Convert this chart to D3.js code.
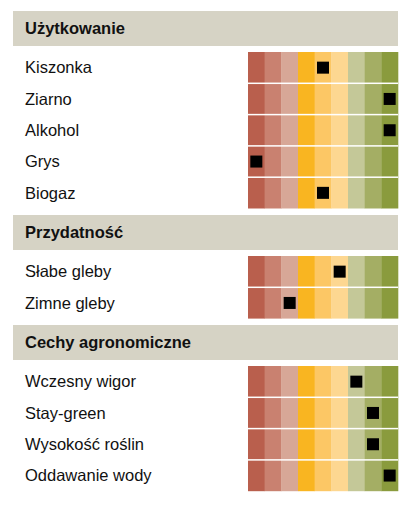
<!DOCTYPE html>
<html>
<head>
<meta charset="utf-8">
<script src="https://cdn.jsdelivr.net/npm/d3@7"></script>
<style>
  html, body { margin: 0; padding: 0; background: #fff; }
  svg { display: block; font-family: "Liberation Sans", Arial, sans-serif; }
</style>
</head>
<body>
<div id="chart"></div>
<script>
// Section titles
var sectionTitles = ["Użytkowanie", "Przydatność", "Cechy agronomiczne"];

// Row labels per section
var useLabels = ["Kiszonka", "Ziarno", "Alkohol", "Grys", "Biogaz"];
var fitLabels = ["Słabe gleby", "Zimne gleby"];
var agroLabels = ["Wczesny wigor", "Stay-green", "Wysokość roślin", "Oddawanie wody"];

// Score per row (1..9 scale column)
var useScores = [5, 9, 9, 1, 5];
var fitScores = [6, 3];
var agroScores = [7, 8, 8, 9];

// Scale steps and their colours
var steps = [1, 2, 3, 4, 5, 6, 7, 8, 9];
var stepColors = ["#b95f4d", "#c98170", "#d7a797", "#f9b521", "#fcc765",
                  "#fdd791", "#c4c898", "#a4ae64", "#8a9b3d"];

var W = 419, H = 509;
var svg = d3.select("#chart").append("svg").attr("width", W).attr("height", H);

var sections = [
  { title: sectionTitles[0], labels: useLabels, scores: useScores, top: 11 },
  { title: sectionTitles[1], labels: fitLabels, scores: fitScores, top: 215 },
  { title: sectionTitles[2], labels: agroLabels, scores: agroScores, top: 325 }
];

var headerH = 35, gap = 6, rowH = 31.3;
var x = d3.scaleBand().domain(steps).range([248, 398]).padding(0);
var color = d3.scaleOrdinal().domain(steps).range(stepColors);

sections.forEach(function (sec) {
  var g = svg.append("g");

  // Header bar
  g.append("rect")
    .attr("x", 13).attr("y", sec.top)
    .attr("width", 385).attr("height", headerH)
    .attr("fill", "#d6d3c5");
  g.append("text")
    .attr("x", 25).attr("y", sec.top + headerH / 2)
    .attr("dy", "0.35em")
    .attr("font-size", 16.5).attr("font-weight", "bold")
    .attr("fill", "#111")
    .text(sec.title);

  var gridTop = sec.top + headerH + gap;
  var y = d3.scaleBand().domain(sec.labels)
    .range([gridTop, gridTop + rowH * sec.labels.length]);

  sec.labels.forEach(function (lab, i) {
    var row = g.append("g");
    row.selectAll("rect.cell")
      .data(steps)
      .join("rect")
      .attr("class", "cell")
      .attr("x", function (d) { return x(d); })
      .attr("y", y(lab))
      .attr("width", x.bandwidth() + 0.3)
      .attr("height", y.bandwidth())
      .attr("fill", function (d) { return color(d); });

    // white separator between rows
    if (i > 0) {
      row.append("rect")
        .attr("x", 248).attr("y", y(lab) - 0.75)
        .attr("width", 150).attr("height", 1.5)
        .attr("fill", "#fff");
    }

    var s = 12;
    row.append("rect")
      .attr("x", x(sec.scores[i]) + x.bandwidth() / 2 - s / 2)
      .attr("y", y(lab) + y.bandwidth() / 2 - s / 2)
      .attr("width", s).attr("height", s)
      .attr("fill", "#000");

    row.append("text")
      .attr("x", 25).attr("y", y(lab) + y.bandwidth() / 2)
      .attr("dy", "0.35em")
      .attr("font-size", 16.5)
      .attr("fill", "#111")
      .text(lab);
  });
});
</script>
</body>
</html>
